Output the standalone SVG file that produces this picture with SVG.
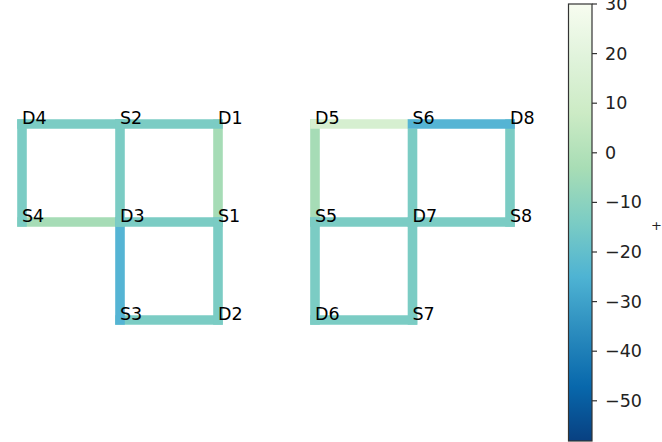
<svg xmlns="http://www.w3.org/2000/svg" width="662" height="442" viewBox="0 0 662 442">
<defs>
<linearGradient id="cmap" x1="0" y1="0" x2="0" y2="1">
<stop offset="0" stop-color="#f7fcf0"/>
<stop offset="0.125" stop-color="#e0f3db"/>
<stop offset="0.25" stop-color="#ccebc5"/>
<stop offset="0.375" stop-color="#a8ddb5"/>
<stop offset="0.5" stop-color="#7bccc4"/>
<stop offset="0.625" stop-color="#4eb3d3"/>
<stop offset="0.75" stop-color="#2b8cbe"/>
<stop offset="0.875" stop-color="#0868ac"/>
<stop offset="1" stop-color="#084081"/>
</linearGradient>
<style>
.e{stroke-width:9.6;stroke-linecap:square;fill:none}
.t{stroke:#7bccc4}
.g{stroke:#a6dcb6}
.v{stroke:#d6efd0}
.b{stroke:#55b4d4}
.lbl{font-family:"DejaVu Sans",sans-serif;font-size:17.5px;fill:#000}
.tk{font-family:"DejaVu Sans",sans-serif;font-size:17.5px;fill:#222;dominant-baseline:central}
.tm{stroke:#333;stroke-width:1.2}
</style>
</defs>
<rect width="662" height="442" fill="#fff"/>
<g id="connectors">
<line class="e g" x1="218" y1="124" x2="218" y2="222"/>
<line class="e g" x1="22" y1="222" x2="120" y2="222"/>
<line class="e t" x1="120" y1="320" x2="218" y2="320"/>
<line class="e b" x1="120" y1="222" x2="120" y2="320"/>
<line class="e t" x1="22" y1="124" x2="22" y2="222"/>
<line class="e t" x1="120" y1="124" x2="120" y2="222"/>
<line class="e t" x1="120" y1="222" x2="218" y2="222"/>
<line class="e t" x1="218" y1="222" x2="218" y2="320"/>
<line class="e t" x1="22" y1="124" x2="120" y2="124"/>
<line class="e t" x1="120" y1="124" x2="218" y2="124"/>
<line class="e g" x1="315" y1="124" x2="315" y2="222"/>
<line class="e t" x1="412.5" y1="124" x2="412.5" y2="222"/>
<line class="e t" x1="510" y1="124" x2="510" y2="222"/>
<line class="e t" x1="315" y1="222" x2="412.5" y2="222"/>
<line class="e t" x1="412.5" y1="222" x2="510" y2="222"/>
<line class="e t" x1="315" y1="222" x2="315" y2="320"/>
<line class="e t" x1="412.5" y1="222" x2="412.5" y2="320"/>
<line class="e t" x1="315" y1="320" x2="412.5" y2="320"/>
<line class="e v" x1="315" y1="124" x2="412.5" y2="124"/>
<line class="e b" x1="412.5" y1="124" x2="510" y2="124"/>
</g>
<g id="D4"><text class="lbl" x="22" y="124">D4</text></g>
<g id="S2"><text class="lbl" x="120" y="124">S2</text></g>
<g id="D1"><text class="lbl" x="218" y="124">D1</text></g>
<g id="S4"><text class="lbl" x="22" y="222">S4</text></g>
<g id="D3"><text class="lbl" x="120" y="222">D3</text></g>
<g id="S1"><text class="lbl" x="218" y="222">S1</text></g>
<g id="S3"><text class="lbl" x="120" y="320">S3</text></g>
<g id="D2"><text class="lbl" x="218" y="320">D2</text></g>
<g id="D5"><text class="lbl" x="315" y="124">D5</text></g>
<g id="S6"><text class="lbl" x="412.5" y="124">S6</text></g>
<g id="D8"><text class="lbl" x="510" y="124">D8</text></g>
<g id="S5"><text class="lbl" x="315" y="222">S5</text></g>
<g id="D7"><text class="lbl" x="412.5" y="222">D7</text></g>
<g id="S8"><text class="lbl" x="510" y="222">S8</text></g>
<g id="D6"><text class="lbl" x="315" y="320">D6</text></g>
<g id="S7"><text class="lbl" x="412.5" y="320">S7</text></g>
<g id="colorbar">
<rect x="568.5" y="4" width="23.5" height="437" fill="url(#cmap)" stroke="#333" stroke-width="1.2"/>
<line class="tm" x1="592" y1="4" x2="597" y2="4"/>
<line class="tm" x1="592" y1="53.6" x2="597" y2="53.6"/>
<line class="tm" x1="592" y1="103.2" x2="597" y2="103.2"/>
<line class="tm" x1="592" y1="152.8" x2="597" y2="152.8"/>
<line class="tm" x1="592" y1="202.4" x2="597" y2="202.4"/>
<line class="tm" x1="592" y1="252" x2="597" y2="252"/>
<line class="tm" x1="592" y1="301.6" x2="597" y2="301.6"/>
<line class="tm" x1="592" y1="351.2" x2="597" y2="351.2"/>
<line class="tm" x1="592" y1="400.8" x2="597" y2="400.8"/>
<text class="tk" x="605" y="4">30</text>
<text class="tk" x="605" y="53.6">20</text>
<text class="tk" x="605" y="103.2">10</text>
<text class="tk" x="605" y="152.8">0</text>
<text class="tk" x="605" y="202.4">−10</text>
<text class="tk" x="605" y="252">−20</text>
<text class="tk" x="605" y="301.6">−30</text>
<text class="tk" x="605" y="351.2">−40</text>
<text class="tk" x="605" y="400.8">−50</text>
<text x="656.5" y="225" font-family="DejaVu Sans,sans-serif" font-size="13" fill="#222" text-anchor="middle" dominant-baseline="central">+</text>
</g>
</svg>
